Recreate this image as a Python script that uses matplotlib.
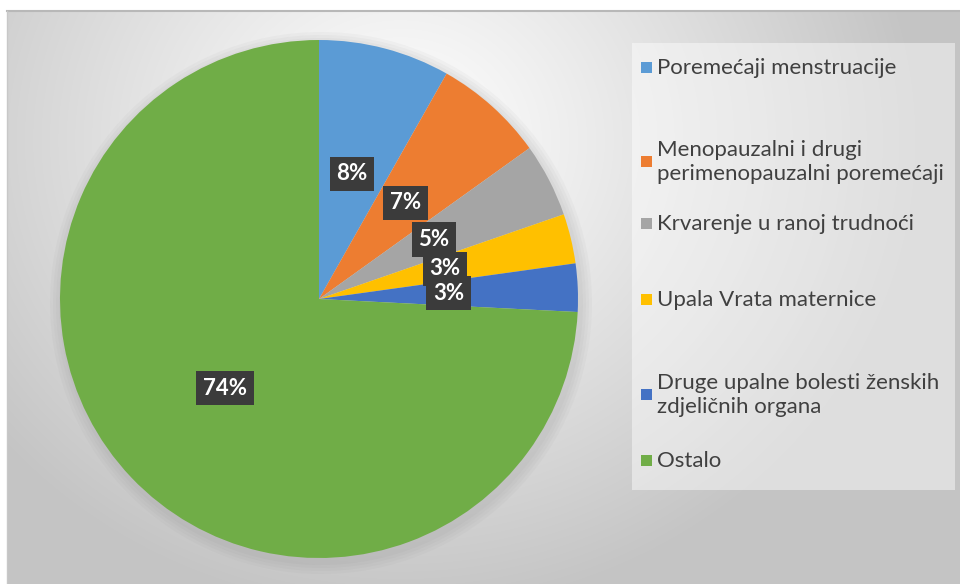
import numpy as np
import matplotlib
matplotlib.use("Agg")
import matplotlib.pyplot as plt
from matplotlib.patches import Rectangle, Circle

# data (percent of total)
categories = [
    "Poremećaji menstruacije",
    "Menopauzalni i drugi\nperimenopauzalni poremećaji",
    "Krvarenje u ranoj trudnoći",
    "Upala Vrata maternice",
    "Druge upalne bolesti ženskih\nzdjeličnih organa",
    "Ostalo",
]
shares = [8.2, 6.9, 4.6, 3.1, 3.0, 74.2]
colors = ["#5B9BD5", "#ED7D31", "#A5A5A5", "#FFC000", "#4472C4", "#70AD47"]

W, H = 960, 584
fig = plt.figure(figsize=(W / 100, H / 100), dpi=100)
fig.patch.set_facecolor("white")

# radial grey background of the chart area
bg = fig.add_axes([0, 0, 1, 1])
bg.set_xlim(0, W)
bg.set_ylim(H, 0)
bg.axis("off")
yy, xx = np.mgrid[11:H, 7:W]
r = np.hypot(xx - 400, (yy - 140) * 1.1)
t = np.clip(r / 520, 0, 1) ** 1.1
grey = 1.0 - 0.23 * t
img = np.dstack([grey, grey, grey])
bg.imshow(img, extent=(7, W, H, 11), origin="upper", aspect="auto", zorder=0)
bg.plot([7, W], [11, 11], color="#b8b8b8", lw=1.5, zorder=1)
bg.plot([7, 7], [11, H], color="#c8c8c8", lw=1, zorder=1)

# legend panel
bg.add_patch(Rectangle((632, 43), 323, 447, facecolor="white", alpha=0.45,
                       edgecolor="none", zorder=2))

# soft shadow behind the pie
cx, cy, R = 319, 299, 259
for k in range(4):
    bg.add_patch(Circle((cx + 2, cy + 4), R + 3 + 3 * k, facecolor="#808080",
                        alpha=0.05, edgecolor="none", zorder=2))

ax = fig.add_axes([(cx - R) / W, (H - cy - R) / H, 2 * R / W, 2 * R / H])
wedges, texts, autotexts = ax.pie(
    shares, colors=colors, startangle=90, counterclock=False,
    autopct="%1.0f%%", pctdistance=0.5,
    wedgeprops=dict(linewidth=0),
    textprops=dict(color="white", fontsize=16, fontweight="bold", family="Lato"),
)
ax.set_xlim(-1, 1)
ax.set_ylim(-1, 1)
for t_ in autotexts:
    t_.set_bbox(dict(boxstyle="square,pad=0.3", facecolor="#3b3b3b",
                     edgecolor="none"))

# legend entries
legend_y = [68, 162, 224, 300, 395, 461]
for lab, col, y in zip(categories, colors, legend_y):
    bg.add_patch(Rectangle((641, y - 6), 11, 11, facecolor=col, edgecolor="none",
                           zorder=3))
    bg.text(657, y, lab, fontsize=16, family="Lato", color="#404040",
            va="center", ha="left", linespacing=1.25, zorder=3)

fig.savefig("out.png", dpi=100)
